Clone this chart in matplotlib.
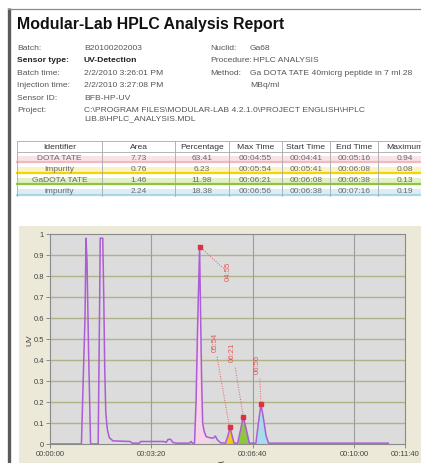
"""HPLC analysis report page: header block, peak table and UV chromatogram."""
import numpy as np
import matplotlib.pyplot as plt
from matplotlib.patches import Rectangle

plt.rcParams["font.family"] = ["Liberation Sans", "DejaVu Sans"]

# --- report header ---
TITLE = "Modular-Lab HPLC Analysis Report"
left_labels = ["Batch:", "Sensor type:", "Batch time:", "Injection time:", "Sensor ID:", "Project:"]
left_values = ["B20100202003", "UV-Detection", "2/2/2010 3:26:01 PM", "2/2/2010 3:27:08 PM", "BFB-HP-UV",
               "C:\\PROGRAM FILES\\MODULAR-LAB 4.2.1.0\\PROJECT ENGLISH\\HPLC\nLIB.8\\HPLC_ANALYSIS.MDL"]
right_labels = ["Nuclid:", "Procedure:", "Method:", ""]
right_values = ["Ga68", "HPLC ANALYSIS", "Ga DOTA TATE 40micrg peptide in 7 ml 28", "MBq/ml"]

# --- peak table ---
columns = ["Identifier", "Area", "Percentage", "Max Time", "Start Time", "End Time", "Maximum"]
peak_names = ["DOTA TATE", "Impurity", "GaDOTA TATE", "impurity"]
area = [7.73, 0.76, 1.46, 2.24]
percentage = [63.41, 6.23, 11.98, 18.38]
max_time = ["00:04:55", "00:05:54", "00:06:21", "00:06:56"]
start_time = ["00:04:41", "00:05:41", "00:06:08", "00:06:38"]
end_time = ["00:05:16", "00:06:08", "00:06:38", "00:07:16"]
maximum = [0.94, 0.08, 0.13, 0.19]

# --- UV trace (seconds, UV) ---
trace_t = [0, 62, 66, 69, 71, 73, 76, 80, 95, 98, 99, 104, 106, 108, 110, 113, 117, 124, 158, 162, 176, 179,
           224, 229, 233, 238, 242, 248, 275, 278, 281, 285, 288, 291, 295, 297, 299, 301, 304, 308, 315, 322,
           326, 330, 336, 346, 351, 355, 359, 363, 370, 376, 381, 386, 393, 406, 411, 416, 421, 426, 431, 667]
trace_uv = [0, 0, 0.35, 0.6, 0.98, 0.87, 0.45, 0, 0, 0.7, 0.98, 0.98, 0.7, 0.35, 0.15, 0.07, 0.03, 0.015,
            0.012, 0.004, 0.004, 0.012, 0.012, 0.008, 0.022, 0.022, 0.008, 0.004, 0.004, 0.012, 0.004, 0.004,
            0.2, 0.55, 0.94, 0.6, 0.3, 0.1, 0.06, 0.035, 0.03, 0.028, 0.038, 0.02, 0.006, 0.004, 0.04, 0.08,
            0.04, 0.004, 0.004, 0.07, 0.13, 0.08, 0.004, 0.004, 0.1, 0.19, 0.12, 0.04, 0.004, 0.004]

ROW_TINT = ["#fae3e6", "#fbf3c4", "#e2f0c8", "#dcedf5"]
ROW_LINE = ["#f2b8bd", "#f5d400", "#8cc43c", "#a9d6e8"]
PEAK_FILL = ["#f6d3e6", "#f5c518", "#8dc63f", "#a9dceb"]
# label centre (s, UV) and end point of the dotted leader near the label
LABEL_AT = [(351, 0.825), (325, 0.49), (360, 0.44), (409, 0.385)]
LEADER_END = [(345, 0.83), (329, 0.42), (365, 0.37), (414, 0.31)]


def secs(hms):
    h, m, s = (int(p) for p in hms.split(":"))
    return h * 3600 + m * 60 + s


def clock(v, _pos=None):
    v = int(round(v))
    return f"{v // 3600:02d}:{v % 3600 // 60:02d}:{v % 60:02d}"


fig = plt.figure(figsize=(4.21, 4.64), dpi=100)
page = fig.add_axes([0, 0, 1, 1])
page.set_xlim(0, 421)
page.set_ylim(464, 0)
page.axis("off")

# page frame
page.plot([8.5, 8.5], [9, 470], color="#5a5a5a", lw=2.4, solid_capstyle="butt")
page.plot([7.5, 430], [9.5, 9.5], color="#8a8a8a", lw=0.9)

page.text(17, 25, TITLE, fontsize=11.4, fontweight="bold", color="#111111", va="center")
txt = dict(fontsize=6.1, va="top", color="#555555", linespacing=1.15)
for i, (lab, val) in enumerate(zip(left_labels, left_values)):
    y = 44.5 + i * 12.6
    bold = dict(fontweight="bold", color="#222222") if lab == "Sensor type:" else {}
    page.text(17, y, lab, **{**txt, **bold})
    page.text(84, y, val, **{**txt, **bold})
for i, (lab, val) in enumerate(zip(right_labels, right_values)):
    y = 44.5 + i * 12.6
    page.text(210, y, lab, **txt)
    page.text(253 if lab == "Procedure:" else 250, y, val, **txt)

# peak table
edges = [17, 102, 175, 229, 282, 330, 378, 445]
top, head_h, row_h = 142, 11, 11
rows = [[n, f"{a:.2f}", f"{p:.2f}", mt, st, et, f"{m:.2f}"]
        for n, a, p, mt, st, et, m in zip(peak_names, area, percentage, max_time, start_time, end_time, maximum)]
for i in range(len(rows)):
    y0 = top + head_h + i * row_h
    page.add_patch(Rectangle((edges[0], y0 + row_h * 0.35), edges[-1] - edges[0], row_h * 0.65,
                             facecolor=ROW_TINT[i], edgecolor="none"))
    page.plot([edges[0], edges[-1]], [y0 + row_h - 0.8] * 2, color=ROW_LINE[i], lw=1.6)
for j, col in enumerate(columns):
    cx = (edges[j] + edges[j + 1]) / 2 if j < len(columns) - 1 else 405
    page.text(cx, top + head_h / 2, col, fontsize=6.1, ha="center", va="center", color="#333333")
    for i, row in enumerate(rows):
        page.text(cx, top + head_h + i * row_h + row_h / 2, row[j], fontsize=6.0, ha="center",
                  va="center", color="#6a6a6a")
bottom = top + head_h + len(rows) * row_h
for x in edges[:-1]:
    page.plot([x, x], [top, bottom], color="#a8a8a8", lw=0.6)
for y in [top, top + head_h]:
    page.plot([edges[0], edges[-1]], [y, y], color="#a8a8a8", lw=0.6)

# chart panel
page.add_patch(Rectangle((19, 227), 410, 240, facecolor="#ece9d8", edgecolor="none"))
page.text(30, 340, "UV", rotation=90, fontsize=6.0, ha="center", va="center", color="#444444")
page.text(228, 466, "Time", fontsize=6.5, ha="center", va="center", color="#444444")

ax = fig.add_axes([50 / 421, 19 / 464, 355 / 421, 210 / 464], zorder=3)
ax.set_facecolor("#dcdcdc")
t = np.array(trace_t, dtype=float)
uv = np.array(trace_uv)
for k in range(len(peak_names)):
    sel = (t >= secs(start_time[k])) & (t <= secs(end_time[k]))
    ax.fill_between(t, 0, uv, where=sel, color=PEAK_FILL[k], lw=0, zorder=2)
ax.plot(t, uv, color="#ac5cd6", lw=1.1, zorder=3)
for k in range(len(peak_names)):
    px, py = secs(max_time[k]), maximum[k]
    lx, ly = LEADER_END[k]
    ax.plot([px, lx], [py, ly], color="#e06060", lw=0.7, ls=(0, (1, 1.5)), zorder=4)
    ax.plot(px, py, "s", ms=2.2, color="#e0303a", zorder=5)
    ax.text(*LABEL_AT[k], max_time[k][3:], rotation=90, fontsize=5.6, ha="center", va="center",
            color="#e05a5a", zorder=5)

ax.set_xlim(0, 700)
ax.set_ylim(0, 1)
ax.set_yticks(np.arange(0, 1.01, 0.1))
ax.set_yticklabels(["0"] + [f"{v:.1f}" for v in np.arange(0.1, 0.95, 0.1)] + ["1"])
ax.set_xticks([0, 200, 400, 600, 700])
ax.xaxis.set_major_formatter(clock)
for y in np.arange(0.1, 0.95, 0.1):
    ax.axhline(y, color="#b2b288", lw=1.0, zorder=1)
for x in [200, 400, 600]:
    ax.axvline(x, color="#9c9c9c", lw=0.8, zorder=1)
ax.tick_params(labelsize=5.5, colors="#8a8a8a", labelcolor="#444444", length=3, width=0.7, pad=1.2)
for s in ax.spines.values():
    s.set_color("#8a8a8a")
    s.set_linewidth(0.8)

fig.savefig("out.png", dpi=100)
